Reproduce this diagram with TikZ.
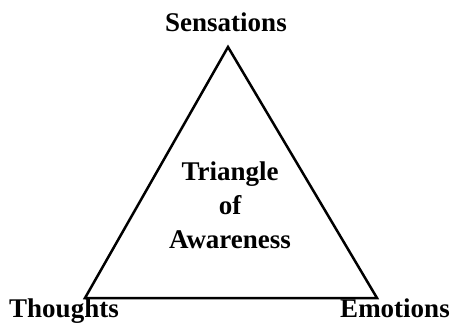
\documentclass[tikz,border=0pt]{standalone}
\usepackage{fontspec}
\setmainfont{Liberation Serif}
\usetikzlibrary{positioning}

\begin{document}
\begin{tikzpicture}[
  x=1pt, y=-1pt,
  every node/.style={font=\fontsize{27}{34}\selectfont\bfseries, inner sep=0pt},
  corner/.style={anchor=base},
  side/.style={line width=2.5pt, line join=miter},
]
  \useasboundingbox (0,0) rectangle (451,333);

  % corners of the triangle
  \coordinate (top) at (228,47);
  \coordinate (lft) at (85,298);
  \coordinate (rgt) at (377,298);
  \draw[side] (top) -- (lft) -- (rgt) -- cycle;

  \node[corner] (sens) at (226,31) {Sensations};
  \node[corner] (thou) at (64,317) {Thoughts};
  \node[corner] (emot) at (395,317) {Emotions};

  \node[align=center] (mid) at (230,205) {Triangle\\of\\Awareness};
\end{tikzpicture}
\end{document}
